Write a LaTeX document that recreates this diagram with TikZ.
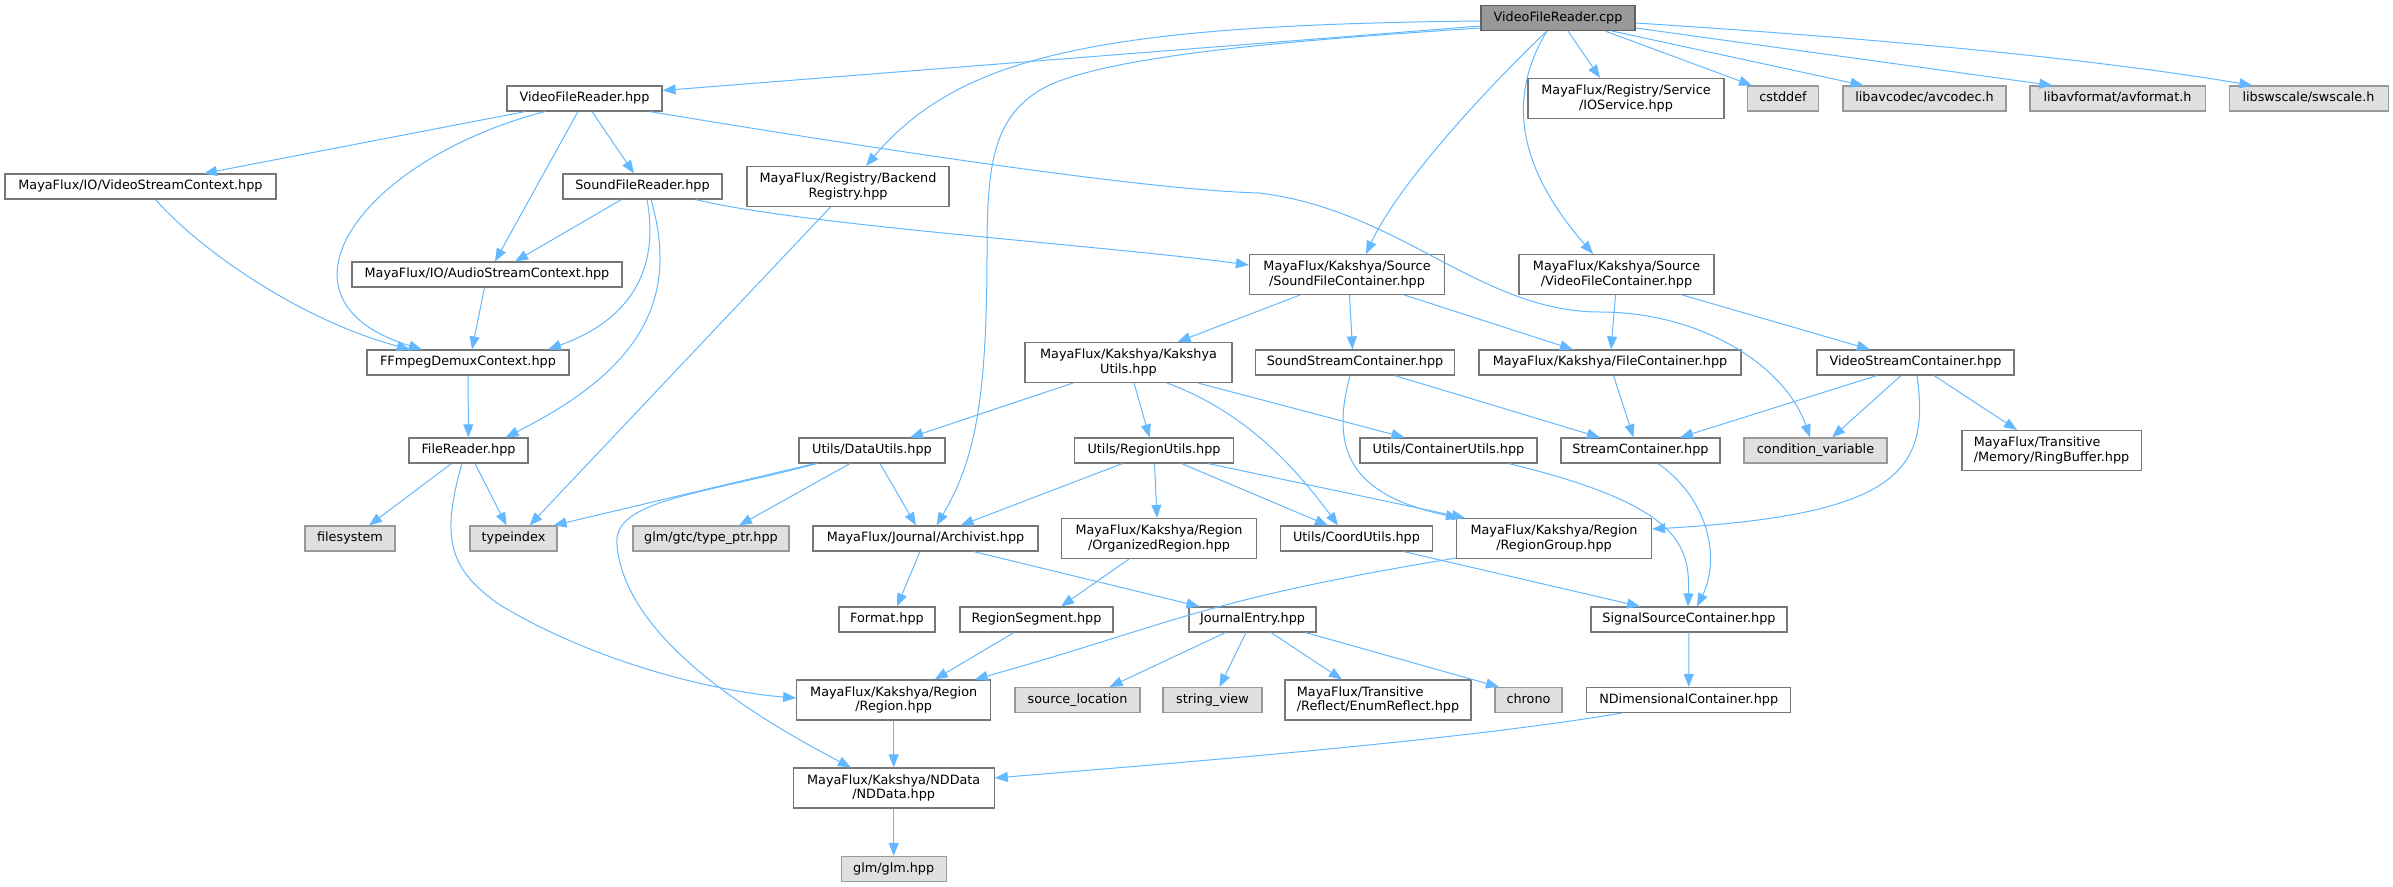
\documentclass[tikz,border=0pt]{standalone}
\usepackage{fontspec}
\setmainfont{DejaVu Sans}
\usetikzlibrary{arrows.meta,calc}

\definecolor{edgeblue}{HTML}{63B8FF}
\definecolor{nodeline}{HTML}{777777}
\definecolor{extfill}{HTML}{E0E0E0}
\definecolor{extline}{HTML}{999999}
\definecolor{mainfill}{HTML}{999999}

\begin{document}
\begin{tikzpicture}[x=0.75pt,y=-0.75pt,
    incl/.style={
      draw=nodeline,
      fill=white,
      shape=rectangle,
      line width=0.8pt,
      inner xsep=2pt,
      inner ysep=1pt,
      minimum height=18.75pt,
      text height=7.3pt,
      text depth=2.3pt,
      font=\fontsize{9.6}{10.75}\selectfont
    },
    twoline/.style={minimum height=30pt, text height=, text depth=, align=center},
    sysfile/.style={incl, fill=extfill, draw=extline},
    mainfile/.style={incl, fill=mainfill, draw=nodeline!80!black},
    wd/.style={minimum width=#1*0.75pt},
    dep/.style={draw=edgeblue, line width=0.75pt, -{Triangle[length=9.8pt,width=7.5pt]}}
    ]
    \useasboundingbox (0,0) rectangle (2393,887);
    %\draw[help lines] (0,0) grid (2393,887);
    \node[mainfile,wd=154] (cpp) at (1558,18) {VideoFileReader.cpp};
    % first row
    \node[incl,wd=155] (vfrh) at (584.5,98.5) {VideoFileReader.hpp};
    \node[incl,twoline,wd=196] (iosvc) at (1626,98.5) {MayaFlux/Registry/Service\\/IOService.hpp};
    \node[sysfile,wd=71] (cstddef) at (1783,98.5) {cstddef};
    \node[sysfile,wd=163] (avcodec) at (1924.5,98.5) {libavcodec/avcodec.h};
    \node[sysfile,wd=175] (avformat) at (2117.5,98.5) {libavformat/avformat.h};
    \node[sysfile,wd=159] (swscale) at (2308.5,98.5) {libswscale/swscale.h};
    % second row
    \node[incl,wd=271] (vsctx) at (140.5,186.5) {MayaFlux/IO/VideoStreamContext.hpp};
    \node[incl,wd=159] (sfr) at (642.5,186.5) {SoundFileReader.hpp};
    \node[incl,twoline,wd=202] (backreg) at (848,186.5) {MayaFlux/Registry/Backend\\Registry.hpp};
    \node[incl,wd=270] (asctx) at (487,274.5) {MayaFlux/IO/AudioStreamContext.hpp};
    \node[incl,twoline,wd=195] (sfc) at (1347,274.5) {MayaFlux/Kakshya/Source\\/SoundFileContainer.hpp};
    \node[incl,twoline,wd=195] (vfc) at (1616.5,274.5) {MayaFlux/Kakshya/Source\\/VideoFileContainer.hpp};
    \node[incl,wd=202] (demux) at (468,362.5) {FFmpegDemuxContext.hpp};
    \node[incl,twoline,wd=207] (kutils) at (1128.5,362.5) {MayaFlux/Kakshya/Kakshya\\Utils.hpp};
    \node[incl,wd=199] (ssc) at (1355,362.5) {SoundStreamContainer.hpp};
    \node[incl,wd=262] (filecont) at (1610,362.5) {MayaFlux/Kakshya/FileContainer.hpp};
    \node[incl,wd=197] (vsc) at (1915.5,362.5) {VideoStreamContainer.hpp};
    \node[incl,wd=119] (freader) at (468.5,450.5) {FileReader.hpp};
    \node[incl,wd=146] (datautils) at (872,450.5) {Utils/DataUtils.hpp};
    \node[incl,wd=159] (regutils) at (1154,450.5) {Utils/RegionUtils.hpp};
    \node[incl,wd=177] (contutils) at (1448.5,450.5) {Utils/ContainerUtils.hpp};
    \node[incl,wd=159] (streamcont) at (1640.5,450.5) {StreamContainer.hpp};
    \node[sysfile,wd=143] (condvar) at (1815.5,450.5) {condition\_variable};
    \node[incl,twoline,align=left,wd=179] (ringbuf) at (2051.5,450.5) {MayaFlux/Transitive\\/Memory/RingBuffer.hpp};
    \node[sysfile,wd=90] (filesys) at (350,538.5) {filesystem};
    \node[sysfile,wd=87] (typeidx) at (513.5,538.5) {typeindex};
    \node[sysfile,wd=156] (typeptr) at (711,538.5) {glm/gtc/type\_ptr.hpp};
    \node[incl,wd=225] (archivist) at (925.5,538.5) {MayaFlux/Journal/Archivist.hpp};
    \node[incl,twoline,wd=195] (orgreg) at (1159,538.5) {MayaFlux/Kakshya/Region\\/OrganizedRegion.hpp};
    \node[incl,wd=152] (coordutils) at (1356.5,538.5) {Utils/CoordUtils.hpp};
    \node[incl,twoline,wd=195] (reggroup) at (1554,538.5) {MayaFlux/Kakshya/Region\\/RegionGroup.hpp};
    \node[incl,wd=96] (format) at (887,619.5) {Format.hpp};
    \node[incl,wd=153] (regseg) at (1036.5,619.5) {RegionSegment.hpp};
    \node[incl,wd=127] (jentry) at (1252.5,619.5) {JournalEntry.hpp};
    \node[incl,wd=196] (sigsrc) at (1689,619.5) {SignalSourceContainer.hpp};
    \node[incl,twoline,wd=194] (region) at (893.7,700) {MayaFlux/Kakshya/Region\\/Region.hpp};
    \node[sysfile,wd=125] (srcloc) at (1077.5,700) {source\_location};
    \node[sysfile,wd=99] (strview) at (1212.5,700) {string\_view};
    \node[incl,twoline,align=left,wd=186] (enumrefl) at (1378,700) {MayaFlux/Transitive\\/Reflect/EnumReflect.hpp};
    \node[sysfile,wd=67] (chrono) at (1528.5,700) {chrono};
    \node[incl,wd=204] (ndimcont) at (1688.7,700) {NDimensionalContainer.hpp};
    \node[incl,twoline,wd=201] (nddata) at (893.7,788) {MayaFlux/Kakshya/NDData\\/NDData.hpp};
    \node[sysfile,wd=105] (glm) at (893.7,869) {glm/glm.hpp};

    % VideoFileReader.cpp
    \draw[dep] ($(cpp.west)+(0,8)$) -- ($(vfrh.east)+(0,-8)$);
    \draw[dep] ($(cpp.west)+(0,3)$) .. controls (1100,25) and (960,55) .. ($(backreg.north)+(18,0)$);
    \draw[dep] ($(cpp.west)+(0,10)$) .. controls (1300,40) and (1100,55) .. (1040,90) .. controls (995,118) and (987,160) .. (987,250) .. controls (987,400) and (975,460) .. ($(archivist.north)+(11,0)$);
    \draw[dep] ($(cpp.south)+(-11,0)$) .. controls (1500,75) and (1400,180) .. ($(sfc.north)+(19,0)$);
    \draw[dep] ($(cpp.south)+(-11,0)$) .. controls (1505,100) and (1520,170) .. ($(vfc.north)+(-23.5,0)$);
    \draw[dep] ($(cpp.south)+(10,0)$) -- ($(iosvc.north)+(-26,0)$);
    \draw[dep] ($(cpp.south)+(47,0)$) -- ($(cstddef.north)+(-31,0)$);
    \draw[dep] ($(cpp.south)+(54,0)$) -- ($(avcodec.north)+(-61,0)$);
    \draw[dep] ($(cpp.east)+(0,10)$) -- ($(avformat.north)+(-65,0)$);
    \draw[dep] ($(cpp.east)+(0,5)$) .. controls (1900,40) and (2100,60) .. ($(swscale.north)+(-56,0)$);
    % VideoFileReader.hpp
    \draw[dep] ($(vfrh.south)+(-59,0)$) -- ($(vsctx.north)+(63.5,0)$);
    \draw[dep] ($(vfrh.south)+(-39.5,0)$) .. controls (360,160) and (260,300) .. ($(demux.north)+(-46,0)$);
    \draw[dep] ($(vfrh.south)+(-6.5,0)$) -- ($(asctx.north)+(8,0)$);
    \draw[dep] ($(vfrh.south)+(7.5,0)$) -- ($(sfr.north)+(-8.5,0)$);
    \draw[dep] ($(vfrh.south)+(65,0)$) .. controls (900,153) and (1150,190) .. (1259,193) .. controls (1400,210) and (1480,312) .. (1600,312) .. controls (1700,312) and (1785,365) .. ($(condvar.north)+(-5.5,0)$);
    \draw[dep] ($(vsctx.south)+(15,0)$) .. controls (200,250) and (300,320) .. ($(demux.north)+(-58,0)$);
    % SoundFileReader.hpp
    \draw[dep] ($(sfr.south)+(-21,0)$) -- ($(asctx.north)+(28,0)$);
    \draw[dep] ($(sfr.south)+(4.5,0)$) .. controls (660,270) and (630,320) .. ($(demux.north)+(80,0)$);
    \draw[dep] ($(sfr.south)+(8.5,0)$) .. controls (680,300) and (640,370) .. ($(freader.north)+(37,0)$);
    \draw[dep] ($(sfr.south)+(53,0)$) .. controls (800,225) and (1100,245) .. ($(sfc.west)+(0,-9.5)$);
    \draw[dep] ($(asctx.south)+(-2.5,0)$) -- ($(demux.north)+(4,0)$);
    \draw[dep] ($(backreg.south)+(-17.5,0)$) -- ($(typeidx.north)+(16,0)$);
    \draw[dep] (demux) -- (freader);
    % FileReader.hpp
    \draw[dep] ($(freader.south)+(-17,0)$) -- ($(filesys.north)+(19,0)$);
    \draw[dep] ($(freader.south)+(6.5,0)$) -- ($(typeidx.north)+(-7,0)$);
    \draw[dep] ($(freader.south)+(-6.5,0)$) .. controls (440,540) and (450,570) .. (500,605) .. controls (600,665) and (720,692) .. ($(region.west)+(0,-2)$);
    % containers
    \draw[dep] ($(sfc.south)+(-47,0)$) -- ($(kutils.north)+(49,0)$);
    \draw[dep] ($(sfc.south)+(2.5,0)$) -- ($(ssc.north)+(-2.5,0)$);
    \draw[dep] ($(sfc.south)+(57.5,0)$) -- ($(filecont.north)+(-37,0)$);
    \draw[dep] ($(vfc.south)+(-1,0)$) -- ($(filecont.north)+(1,0)$);
    \draw[dep] ($(vfc.south)+(66,0)$) -- ($(vsc.north)+(-45.5,0)$);
    \draw[dep] ($(kutils.south)+(-55.5,0)$) -- ($(datautils.north)+(38,0)$);
    \draw[dep] ($(kutils.south)+(5.5,0)$) -- ($(regutils.north)+(-4.5,0)$);
    \draw[dep] ($(kutils.south)+(38.5,0)$) .. controls (1240,410) and (1290,460) .. ($(coordutils.north)+(-18.5,0)$);
    \draw[dep] ($(kutils.south)+(69.5,0)$) -- ($(contutils.north)+(-44,0)$);
    \draw[dep] ($(ssc.south)+(39.5,0)$) -- ($(streamcont.north)+(-40.5,0)$);
    \draw[dep] ($(ssc.south)+(-5,0)$) .. controls (1330,450) and (1350,495) .. ($(reggroup.north)+(-95,0)$);
    \draw[dep] ($(filecont.south)+(3.5,0)$) -- ($(streamcont.north)+(-7,0)$);
    \draw[dep] ($(vsc.south)+(-38.5,0)$) -- ($(streamcont.north)+(39.5,0)$);
    \draw[dep] ($(vsc.south)+(-14.5,0)$) -- ($(condvar.north)+(16.5,0)$);
    \draw[dep] ($(vsc.south)+(18.5,0)$) -- ($(ringbuf.north)+(-34.5,0)$);
    \draw[dep] ($(vsc.south)+(1.5,0)$) .. controls (1930,470) and (1900,515) .. ($(reggroup.east)+(0,-9.5)$);
    % utils
    \draw[dep] ($(datautils.south)+(-57,0)$) -- ($(typeidx.north)+(40,0)$);
    \draw[dep] ($(datautils.south)+(-22,0)$) -- ($(typeptr.north)+(28,0)$);
    \draw[dep] ($(datautils.south)+(8,0)$) -- ($(archivist.north)+(-9.5,0)$);
    \draw[dep] ($(datautils.south)+(-55,0)$) .. controls (700,495) and (612,500) .. (617,545) .. controls (625,640) and (760,720) .. ($(nddata.north)+(-42.7,0)$);
    \draw[dep] ($(regutils.south)+(-31.5,0)$) -- ($(archivist.north)+(35,0)$);
    \draw[dep] ($(regutils.south)+(0.5,0)$) -- ($(orgreg.north)+(-2,0)$);
    \draw[dep] ($(regutils.south)+(27.5,0)$) -- ($(coordutils.north)+(-28.5,0)$);
    \draw[dep] ($(regutils.south)+(54,0)$) -- ($(reggroup.north)+(-89,0)$);
    \draw[dep] ($(contutils.south)+(60,0)$) .. controls (1680,505) and (1690,545) .. ($(sigsrc.north)+(-1,0)$);
    \draw[dep] ($(streamcont.south)+(17.5,0)$) .. controls (1710,500) and (1720,560) .. ($(sigsrc.north)+(8,0)$);
    \draw[dep] ($(archivist.south)+(-5.5,0)$) -- ($(format.north)+(10,0)$);
    \draw[dep] ($(archivist.south)+(48,0)$) -- ($(jentry.north)+(-53,0)$);
    \draw[dep] ($(orgreg.south)+(-30,0)$) -- ($(regseg.north)+(24.5,0)$);
    \draw[dep] ($(coordutils.south)+(47,0)$) -- ($(sigsrc.north)+(-49,0)$);
    \draw[dep] ($(reggroup.south west)+(0,-1)$) .. controls (1200,600) and (1170,625) .. ($(region.north)+(81,0)$);
    \draw[dep] ($(regseg.south)+(-22.5,0)$) -- ($(region.north)+(41,0)$);
    % JournalEntry.hpp
    \draw[dep] ($(jentry.south)+(-27,0)$) -- ($(srcloc.north)+(32,0)$);
    \draw[dep] ($(jentry.south)+(-6.5,0)$) -- ($(strview.north)+(7,0)$);
    \draw[dep] ($(jentry.south)+(18.5,0)$) -- ($(enumrefl.north)+(-36,0)$);
    \draw[dep] ($(jentry.south)+(53,0)$) -- ($(chrono.north)+(-29.5,0)$);
    % bottom
    \draw[dep] (region) -- (nddata);
    \draw[dep] (sigsrc) -- (ndimcont);
    \draw[dep] ($(ndimcont.south)+(-66.7,0)$) .. controls (1450,742) and (1150,765) .. ($(nddata.east)+(0,-10)$);
    \draw[dep] (nddata) -- (glm);
  \end{tikzpicture}
\end{document}
